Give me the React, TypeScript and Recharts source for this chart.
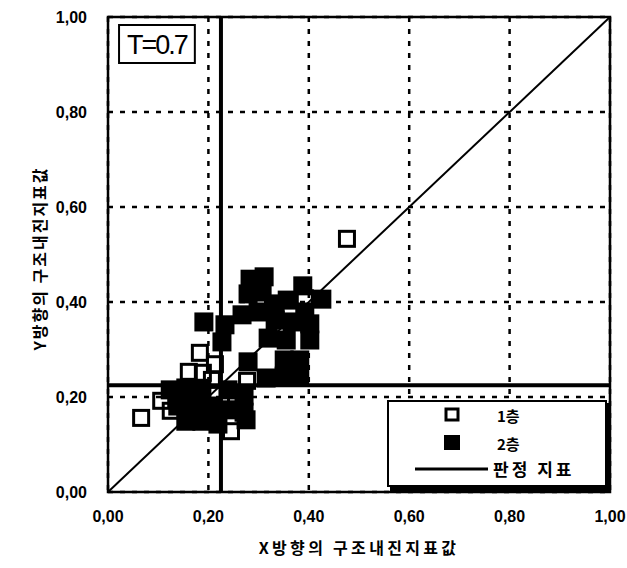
import React from "react";
import {
  ScatterChart,
  Scatter,
  XAxis,
  YAxis,
  CartesianGrid,
  ReferenceLine,
  ReferenceArea,
  Legend,
} from "recharts";

// ---- data ----
const axisTicks = [0, 0.2, 0.4, 0.6, 0.8, 1.0];
const tickLabels = ["0,00", "0,20", "0,40", "0,60", "0,80", "1,00"];

const floor1Name = "1층";
const floor2Name = "2층";
const criterionName = "판정 지표";
const xTitle = "X방향의 구조내진지표값";
const yTitle = "Y방향의 구조내진지표값";
const thresholdLabel = "T=0.7";

const criterionX = 0.225;
const criterionY = 0.225;

const floor1X = [0.476, 0.066, 0.106, 0.183, 0.245, 0.213, 0.161, 0.189, 0.125, 0.255, 0.277, 0.207, 0.392];
const floor1Y = [0.533, 0.156, 0.192, 0.293, 0.128, 0.269, 0.253, 0.251, 0.171, 0.183, 0.234, 0.236, 0.408];

const floor2X = [
  0.283, 0.311, 0.279, 0.307, 0.388, 0.357, 0.333, 0.426, 0.392, 0.267,
  0.299, 0.333, 0.367, 0.402, 0.319, 0.355, 0.402, 0.233, 0.227, 0.191,
  0.351, 0.382, 0.351, 0.382, 0.315, 0.279, 0.124, 0.155, 0.187, 0.239,
  0.271, 0.139, 0.171, 0.203, 0.235, 0.271, 0.155, 0.187, 0.219, 0.275,
];
const floor2Y = [
  0.448, 0.453, 0.417, 0.421, 0.434, 0.404, 0.396, 0.406, 0.379, 0.373,
  0.379, 0.362, 0.358, 0.354, 0.324, 0.32, 0.32, 0.352, 0.316, 0.358,
  0.278, 0.278, 0.244, 0.244, 0.24, 0.274, 0.215, 0.219, 0.215, 0.215,
  0.202, 0.181, 0.185, 0.181, 0.173, 0.168, 0.149, 0.149, 0.143, 0.152,
];

const diagonalX = [0, 1];
const diagonalY = [0, 1];

const floor1Data = floor1X.map((x, i) => ({ x, y: floor1Y[i] }));
const floor2Data = floor2X.map((x, i) => ({ x, y: floor2Y[i] }));
const diagonalSegment = diagonalX.map((x, i) => ({ x, y: diagonalY[i] }));

const LATIN = "'Liberation Sans', Arial, sans-serif";
const KR = "'Noto Sans CJK KR', 'Noto Sans CJK SC', sans-serif";

const fmt = (v: number) => tickLabels[Math.round(v * 5)] ?? String(v);

const OpenSquare = (p: any) => (
  <rect x={p.cx - 7.5} y={p.cy - 7.5} width={15} height={15} fill="none" stroke="#000" strokeWidth={3} />
);
const FilledSquare = (p: any) => (
  <rect x={p.cx - 9.5} y={p.cy - 9.5} width={19} height={19} fill="#000" />
);

const LegendBox = () => (
  <svg width={224} height={92} style={{ display: "block" }}>
    <rect x={3} y={3} width={221} height={89} fill="#000" />
    <rect x={1} y={1} width={218} height={85} fill="#fff" stroke="#000" strokeWidth={2} />
    <rect x={59} y={9} width={12} height={11} fill="#fff" stroke="#000" strokeWidth={3} />
    <text x={110} y={22} fontFamily={KR} fontWeight="bold" fontSize={15} fill="#000">
      {floor1Name}
    </text>
    <rect x={57} y={35} width={16} height={15} fill="#000" />
    <text x={110} y={50} fontFamily={KR} fontWeight="bold" fontSize={15} fill="#000">
      {floor2Name}
    </text>
    <line x1={28} y1={69} x2={101} y2={69} stroke="#000" strokeWidth={3} />
    <text x={106} y={76} fontFamily={KR} fontWeight="bold" fontSize={17} letterSpacing={3} fill="#000">
      {criterionName}
    </text>
  </svg>
);

const tickStyle = { fill: "#000", fontSize: 16, fontWeight: "bold", fontFamily: LATIN };

export default function App() {
  return (
    <div style={{ position: "absolute", left: 0, top: 0, background: "#fff" }}>
      <ScatterChart width={627} height={568} margin={{ top: 17, right: 17, bottom: 12, left: 48 }}>
        <CartesianGrid stroke="#000" strokeWidth={2.5} strokeDasharray="5 7" />
        <XAxis
          type="number"
          dataKey="x"
          domain={[0, 1]}
          ticks={axisTicks}
          tickFormatter={fmt}
          axisLine={false}
          tickLine={false}
          tickSize={0}
          tickMargin={19}
          height={64}
          tick={tickStyle}
          allowDataOverflow
          label={{
            value: xTitle,
            position: "center",
            dy: 24,
            fill: "#000",
            fontSize: 16,
            fontWeight: "bold",
            fontFamily: KR,
            letterSpacing: 3.3,
          }}
        />
        <YAxis
          type="number"
          dataKey="y"
          domain={[0, 1]}
          ticks={axisTicks}
          tickFormatter={fmt}
          axisLine={false}
          tickLine={false}
          tickSize={0}
          tickMargin={21}
          width={60}
          tick={tickStyle}
          allowDataOverflow
          label={{
            value: yTitle,
            position: "center",
            angle: -90,
            dx: -38,
            dy: 4,
            fill: "#000",
            fontSize: 16,
            fontWeight: "bold",
            fontFamily: KR,
            letterSpacing: 2,
          }}
        />
        <ReferenceLine x={criterionX} stroke="#000" strokeWidth={4} />
        <ReferenceLine y={criterionY} stroke="#000" strokeWidth={4} />
        <ReferenceLine segment={diagonalSegment as any} stroke="#000" strokeWidth={2} />
        <ReferenceArea
          x1={0.022}
          x2={0.173}
          y1={0.903}
          y2={0.983}
          fill="#fff"
          fillOpacity={1}
          stroke="#000"
          strokeWidth={2}
          label={{
            value: thresholdLabel,
            position: "center",
            fill: "#000",
            fontSize: 27,
            fontFamily: LATIN,
            letterSpacing: -2,
          }}
        />
        <Scatter name={floor1Name} data={floor1Data} shape={OpenSquare} isAnimationActive={false} />
        <Scatter name={floor2Name} data={floor2Data} shape={FilledSquare} isAnimationActive={false} />
        <ReferenceArea x1={0} x2={1} y1={0} y2={1} fill="none" stroke="#000" strokeWidth={2.5} />
        <Legend
          layout="horizontal"
          verticalAlign="middle"
          align="center"
          width={224}
          height={92}
          content={() => <LegendBox />}
          wrapperStyle={{ left: 387, top: 400, width: 224, height: 92, margin: 0, padding: 0 }}
        />
      </ScatterChart>
    </div>
  );
}
